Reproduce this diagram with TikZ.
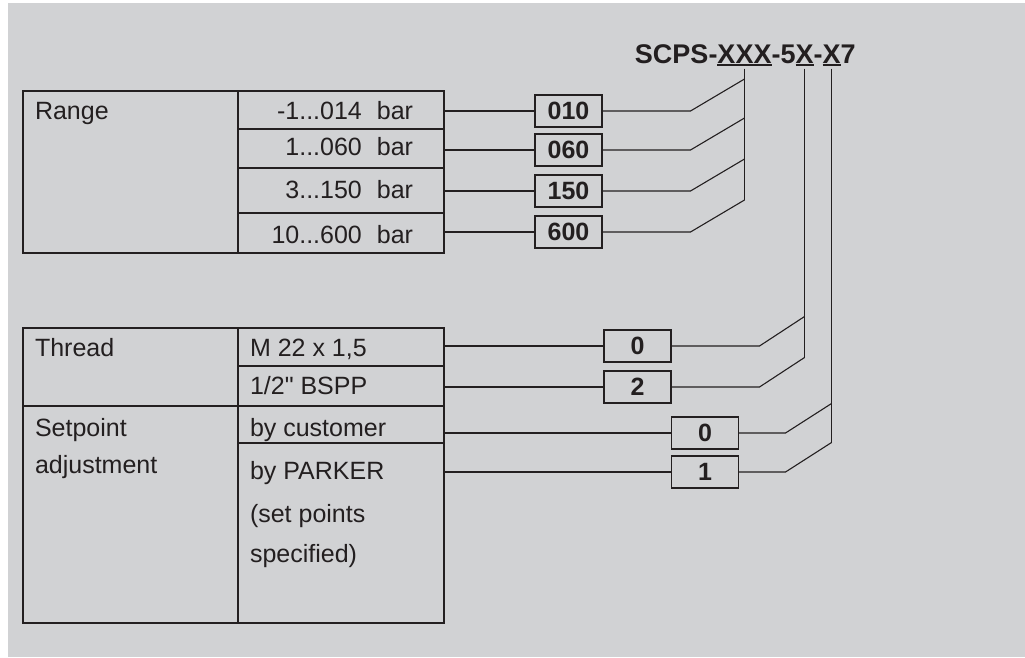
\documentclass[tikz,border=0pt]{standalone}
\usepackage{fontspec}
\setmainfont{Liberation Sans}
\newfontfamily\qfont{Liberation Sans}
\usetikzlibrary{calc}
\definecolor{bg}{HTML}{D1D2D4}
\definecolor{ink}{HTML}{231F20}
\begin{document}
\begin{tikzpicture}[x=1pt,y=-1pt,
  every node/.style={text=ink},
  cell/.style={draw=ink,line width=1.3pt,inner sep=0,outer sep=0,anchor=north west},
  codebox/.style={draw=ink,line width=1.1pt,inner sep=0,outer sep=0,minimum width=67pt,minimum height=32pt,font=\fontsize{25}{30}\selectfont\bfseries},
  txt/.style={inner sep=0,outer sep=0,font=\fontsize{25}{30}\selectfont},
  ttl/.style={inner sep=0,outer sep=0,font=\fontsize{27}{32}\selectfont\bfseries},
  conn/.style={draw=ink,line width=1.1pt},
  uline/.style={draw=ink,line width=1.3pt}]
\useasboundingbox (0,0) rectangle (1025,657);
\fill[white] (0,0) rectangle (1025,657);
\fill[bg] (8,3) rectangle (1025,657);

% title
\node[ttl,anchor=base] (t2) at (744.5,63.5) {XXX};
\node[ttl,anchor=base east] (t1) at (t2.base west) {SCPS-};
\node[ttl,anchor=base west] (t3) at (t2.base east) {-5};
\node[ttl,anchor=base west] (t4) at (t3.base east) {X};
\node[ttl,anchor=base west] (t5) at (t4.base east) {-};
\node[ttl,anchor=base west] (t6) at (t5.base east) {X};
\node[ttl,anchor=base west] (t7) at (t6.base east) {7};
\draw[uline] ([yshift=-1.5pt]t2.base west) -- ([yshift=-1.5pt]t2.base east);
\draw[uline] ([yshift=-1.5pt]t4.base west) -- ([yshift=-1.5pt]t4.base east);
\draw[uline] ([yshift=-1.5pt]t6.base west) -- ([yshift=-1.5pt]t6.base east);
\coordinate (v1) at ([yshift=-5pt]t2.base);
\coordinate (v2) at ([yshift=-5pt]t4.base);
\coordinate (v3) at ([yshift=-5pt]t6.base);

% range table
\node[cell,minimum width=215pt,minimum height=162pt] (rangeL) at (23,91) {};
\node[cell,minimum width=206pt,minimum height=38pt] (r1) at (238,91) {};
\node[cell,minimum width=206pt,minimum height=39pt] (r2) at (238,129) {};
\node[cell,minimum width=206pt,minimum height=45pt] (r3) at (238,168) {};
\node[cell,minimum width=206pt,minimum height=40pt] (r4) at (238,213) {};
\node[txt,anchor=base west] (rangeT) at (35,119.5) {Range};
\node[txt,anchor=base east] (r1T) at (413,119.5) {-1...014\hspace{15pt}bar};
\node[txt,anchor=base east] (r2T) at (413,155) {1...060\hspace{15pt}bar};
\node[txt,anchor=base east] (r3T) at (413,198) {3...150\hspace{15pt}bar};
\node[txt,anchor=base east] (r4T) at (413,243) {10...600\hspace{15pt}bar};

\node[codebox] (b1) at (568.5,111) {010};
\node[codebox] (b2) at (568.5,150) {060};
\node[codebox] (b3) at (568.5,191) {150};
\node[codebox] (b4) at (568.5,232) {600};
\foreach \r/\b in {r1/b1,r2/b2,r3/b3,r4/b4}{
  \draw[conn] (\r.east |- \b.west) -- (\b.west);
  \draw[conn] (\b.east) -- ($(v1 |- \b.east)+(-54,0)$) -- ($(v1 |- \b.east)+(0,-32)$);
}
\draw[conn] (v1) -- ($(v1 |- b4.east)+(0,-32)$);

% thread / setpoint table
\node[cell,minimum width=215pt,minimum height=78pt] (threadL) at (23,328) {};
\node[cell,minimum width=206pt,minimum height=38pt] (th1) at (238,328) {};
\node[cell,minimum width=206pt,minimum height=40pt] (th2) at (238,366) {};
\node[cell,minimum width=215pt,minimum height=217pt] (setL) at (23,406) {};
\node[cell,minimum width=206pt,minimum height=37pt] (s1) at (238,406) {};
\node[cell,minimum width=206pt,minimum height=180pt] (s2) at (238,443) {};
\node[txt,anchor=base west] (threadT) at (35,356) {Thread};
\node[txt,anchor=base west] (th1T) at (250,356) {M 22 x 1,5};
\node[txt,anchor=base west] (th2T) at (250,394) {1/2{\qfont"} BSPP};
\node[txt,anchor=base west] (setT1) at (35,436) {Setpoint};
\node[txt,anchor=base west] (setT2) at (35,473) {adjustment};
\node[txt,anchor=base west] (s1T) at (250,436) {by customer};
\node[txt,anchor=base west] (s2T1) at (250,479) {by PARKER};
\node[txt,anchor=base west] (s2T2) at (250,522) {(set points};
\node[txt,anchor=base west] (s2T3) at (250,562) {specified)};

\node[codebox] (c1) at (637.5,346) {0};
\node[codebox] (c2) at (637.5,387) {2};
\node[codebox] (d1) at (705,433) {0};
\node[codebox] (d2) at (705,472) {1};
\foreach \r/\b in {th1/c1,th2/c2}{
  \draw[conn] (\r.east |- \b.west) -- (\b.west);
  \draw[conn] (\b.east) -- ($(v2 |- \b.east)+(-45,0)$) -- ($(v2 |- \b.east)+(0,-29.5)$);
}
\foreach \r/\b in {s1/d1,s1/d2}{
  \draw[conn] (\r.east |- \b.west) -- (\b.west);
  \draw[conn] (\b.east) -- ($(v3 |- \b.east)+(-46,0)$) -- ($(v3 |- \b.east)+(0,-29.5)$);
}
\draw[conn] (v2) -- ($(v2 |- c2.east)+(0,-29.5)$);
\draw[conn] (v3) -- ($(v3 |- d2.east)+(0,-29.5)$);
\end{tikzpicture}
\end{document}
